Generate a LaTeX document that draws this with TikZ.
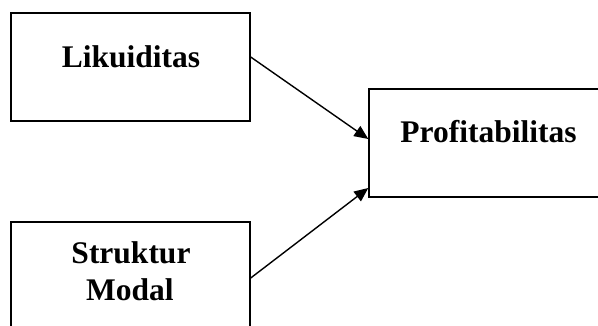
\documentclass[tikz,border=0pt]{standalone}
\usepackage{fontspec}
\setmainfont{Liberation Serif}
\usetikzlibrary{arrows.meta}
\begin{document}
\begin{tikzpicture}[x=1pt,y=-1pt,
  box/.style={draw=black, line width=1.4pt, fill=white, rectangle, inner sep=0pt},
  lbl/.style={font=\fontsize{31.5}{37}\selectfont\bfseries, inner sep=0pt, anchor=base, align=center},
  arr/.style={line width=1.4pt, -{Triangle[length=14pt,width=12pt]}}]
\useasboundingbox (0,0) rectangle (598,325);
\clip (0,0) rectangle (598,325);
\fill[white] (0,0) rectangle (598,325);
\node[box, minimum width=239pt, minimum height=108pt] (liq) at (130.5,67) {};
\node[lbl] (liqt) at (131,67) {Likuiditas};
\node[box, minimum width=241pt, minimum height=108pt] (prof) at (489.5,143) {};
\node[lbl] (proft) at (488.5,142) {Profitabilitas};
\node[box, minimum width=239pt, minimum height=118pt] (struk) at (130.5,281) {};
\node[lbl] (strukt) at (131,263) {Struktur};
\node[lbl] (modalt) at (130,300) {Modal};
\draw[arr] ([yshift=10pt]liq.east) -- ([yshift=4pt]prof.west);
\draw[arr] ([yshift=3pt]struk.east) -- ([yshift=-45pt]prof.west);
\end{tikzpicture}
\end{document}
